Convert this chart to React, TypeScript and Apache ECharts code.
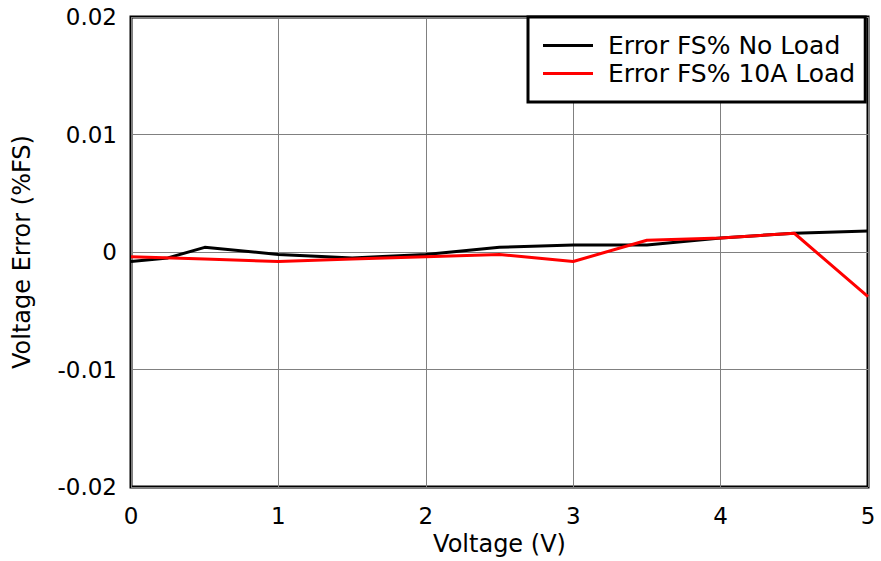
import React, { useEffect, useRef } from "react";
import * as echarts from "echarts";

const xNoLoad = [0, 0.25, 0.5, 1, 1.5, 2, 2.5, 3, 3.5, 4, 4.5, 5];
const yNoLoad = [-0.0008, -0.0005, 0.0004, -0.0002, -0.0005, -0.0002, 0.0004, 0.0006, 0.0006, 0.0012, 0.0016, 0.0018];
const xLoad = [0, 0.5, 1, 1.5, 2, 2.5, 3, 3.5, 4, 4.5, 5];
const yLoad = [-0.0004, -0.0006, -0.0008, -0.0006, -0.0004, -0.0002, -0.0008, 0.001, 0.0012, 0.0016, -0.0038];
const seriesNames = ["Error FS% No Load", "Error FS% 10A Load"];
const seriesColors = ["#000000", "#ff0000"];

const FONT = "'DejaVu Sans', sans-serif";

export default function App() {
  const ref = useRef<HTMLDivElement>(null);
  useEffect(() => {
    if (!ref.current) return;
    const chart = echarts.init(ref.current, undefined, { renderer: "svg" });
    const pair = (xs: number[], ys: number[]) => xs.map((x, i) => [x, ys[i]]);
    chart.setOption({
      animation: false,
      backgroundColor: "#ffffff",
      grid: {
        left: 131,
        top: 17,
        right: 13,
        bottom: 71,
        show: true,
        borderColor: "#000000",
        borderWidth: 3,
        backgroundColor: "transparent",
      },
      legend: {
        orient: "vertical",
        left: 528,
        top: 17,
        backgroundColor: "#ffffff",
        borderColor: "#000000",
        borderWidth: 3,
        padding: [16, 10, 16, 15],
        itemGap: 3,
        itemWidth: 50,
        itemHeight: 3,
        icon: "rect",
        data: seriesNames,
        textStyle: {
          fontFamily: FONT,
          fontSize: 25,
          color: "#000000",
          padding: [0, 0, 0, 10],
        },
      },
      xAxis: {
        type: "value",
        min: 0,
        max: 5,
        interval: 1,
        name: "Voltage (V)",
        nameLocation: "middle",
        nameGap: 42,
        nameTextStyle: { fontFamily: FONT, fontSize: 24, color: "#000000" },
        axisLine: { show: false },
        axisTick: { show: false },
        axisLabel: { fontFamily: FONT, fontSize: 23, color: "#000000", margin: 17 },
        splitLine: { show: true, lineStyle: { color: "#808080", width: 1 } },
      },
      yAxis: {
        type: "value",
        min: -0.02,
        max: 0.02,
        interval: 0.01,
        name: "Voltage Error (%FS)",
        nameLocation: "middle",
        nameGap: 97,
        nameTextStyle: { fontFamily: FONT, fontSize: 24, color: "#000000" },
        axisLine: { show: false },
        axisTick: { show: false },
        axisLabel: {
          fontFamily: FONT,
          fontSize: 23,
          color: "#000000",
          margin: 14,
          formatter: (v: number) => (Math.abs(v) < 1e-9 ? "0" : String(Math.round(v * 100) / 100)),
        },
        splitLine: { show: true, lineStyle: { color: "#808080", width: 1 } },
      },
      series: [
        {
          name: seriesNames[0],
          type: "line",
          data: pair(xNoLoad, yNoLoad),
          symbol: "none",
          color: seriesColors[0],
          lineStyle: { color: seriesColors[0], width: 3 },
        },
        {
          name: seriesNames[1],
          type: "line",
          data: pair(xLoad, yLoad),
          symbol: "none",
          color: seriesColors[1],
          lineStyle: { color: seriesColors[1], width: 3 },
        },
      ],
    });
    return () => chart.dispose();
  }, []);
  return <div ref={ref} style={{ width: 881, height: 561, position: "absolute", left: 0, top: 0 }} />;
}
